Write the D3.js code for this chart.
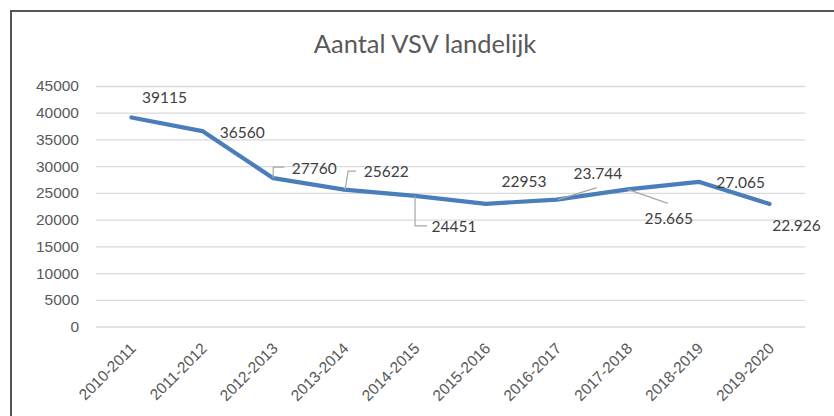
<!DOCTYPE html>
<html>
<head>
<meta charset="utf-8">
<script src="https://cdn.jsdelivr.net/npm/d3@7"></script>
<style>
  body { margin: 0; background: #fff; }
  svg { display: block; font-family: Lato, "Open Sans", sans-serif; }
  .tick text { fill: #595959; }
</style>
</head>
<body>
<script>
const width = 834;
const height = 416;

// data
const seasons = ["2010-2011", "2011-2012", "2012-2013", "2013-2014", "2014-2015",
  "2015-2016", "2016-2017", "2017-2018", "2018-2019", "2019-2020"];
const vsvCounts = [39115, 36560, 27760, 25622, 24451, 22953, 23744, 25665, 27065, 22926];
const valueLabels = ["39115", "36560", "27760", "25622", "24451",
  "22953", "23.744", "25.665", "27.065", "22.926"];
const yTicks = [0, 5000, 10000, 15000, 20000, 25000, 30000, 35000, 40000, 45000];

// label placement relative to the point (label centre)
const labelOffsets = [[33, -20], [40, 1], [41, -10], [42, -18], [39, 31],
  [38, -22], [41, -26.5], [41, 29], [42, 1], [27, 22]];
// leader lines (index -> offsets from the point)
const leaders = {
  2: [[0, 0], [0, -11], [11, -11]],
  3: [[1, 0], [4, -18.5], [12, -18.5]],
  4: [[0, 0], [0, 30], [12, 30]],
  6: [[1, 0], [40, -12]],
  7: [[0, 0], [40, 14]]
};

const margin = { left: 96, right: 29, top: 86, bottom: 90 };

const svg = d3.select("body")
  .append("svg")
  .attr("width", width)
  .attr("height", height);

// frame
svg.append("path")
  .attr("d", `M11,${height} V11 H${width}`)
  .attr("fill", "none")
  .attr("stroke", "#555")
  .attr("stroke-width", 2);

svg.append("text")
  .attr("x", 425)
  .attr("y", 53)
  .attr("text-anchor", "middle")
  .style("font-size", "25.5px")
  .style("fill", "#595959")
  .text("Aantal VSV landelijk");

const x = d3.scalePoint()
  .domain(seasons)
  .range([margin.left, width - margin.right])
  .padding(0.5);

const y = d3.scaleLinear()
  .domain([0, 45000])
  .range([326.5, margin.top]);

// gridlines + y axis
const yAxis = svg.append("g")
  .attr("transform", `translate(${margin.left},0)`)
  .call(d3.axisLeft(y).tickValues(yTicks).tickFormat(d3.format("d"))
    .tickSize(-(width - margin.left - margin.right)).tickPadding(17));
yAxis.select(".domain").remove();
yAxis.selectAll(".tick line").attr("stroke", "#d9d9d9").attr("stroke-width", 1.3);
yAxis.selectAll(".tick text").style("font-size", "15.5px");

// x axis labels
const xAxis = svg.append("g")
  .attr("transform", `translate(0,${y(0)})`)
  .call(d3.axisBottom(x).tickSize(0).tickPadding(0));
xAxis.select(".domain").remove();
xAxis.selectAll(".tick text")
  .style("font-size", "15.5px")
  .attr("text-anchor", "end")
  .attr("dy", 0)
  .attr("transform", "translate(5,23) rotate(-45)");

// line
const line = d3.line()
  .x((d, i) => x(seasons[i]))
  .y(d => y(d));

svg.append("path")
  .datum(vsvCounts)
  .attr("fill", "none")
  .attr("stroke", "#4a7ebb")
  .attr("stroke-width", 4.2)
  .attr("stroke-linejoin", "round")
  .attr("stroke-linecap", "round")
  .attr("d", line);

// leader lines
Object.entries(leaders).forEach(([i, pts]) => {
  const px = x(seasons[i]), py = y(vsvCounts[i]);
  svg.append("path")
    .attr("d", d3.line()(pts.map(p => [px + p[0], py + p[1]])))
    .attr("fill", "none")
    .attr("stroke", "#a6a6a6")
    .attr("stroke-width", 1.2);
});

// data labels
svg.append("g")
  .selectAll("text")
  .data(vsvCounts)
  .join("text")
  .attr("x", (d, i) => x(seasons[i]) + labelOffsets[i][0])
  .attr("y", (d, i) => y(d) + labelOffsets[i][1])
  .attr("dy", "0.35em")
  .attr("text-anchor", "middle")
  .style("font-size", "15.5px")
  .style("fill", "#404040")
  .text((d, i) => valueLabels[i]);
</script>
</body>
</html>
